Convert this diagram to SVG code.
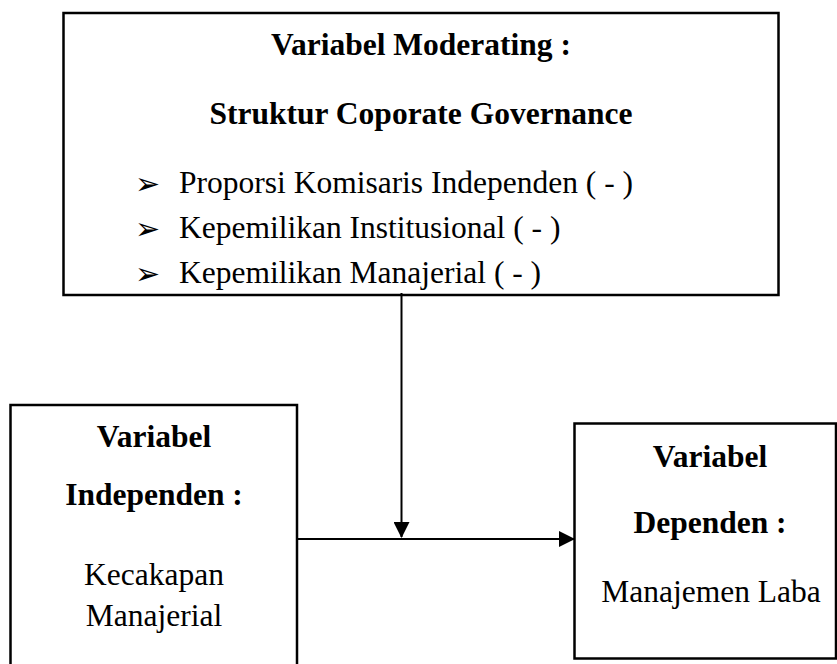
<svg xmlns="http://www.w3.org/2000/svg" width="837" height="664" viewBox="0 0 837 664">
<style>
.box{fill:#fff;stroke:#000;stroke-width:2.5}
.b{font-family:"Liberation Serif","Times New Roman",serif;font-weight:bold;font-size:31.5px;fill:#000;text-anchor:middle}
.r{font-family:"Liberation Serif","Times New Roman",serif;font-size:31.5px;fill:#000}
.c{text-anchor:middle}
.bul{font-family:"DejaVu Sans",sans-serif;font-size:30px;fill:#000}
.ln{stroke:#000;stroke-width:2;fill:none}
</style>
<defs>
<marker id="ah" markerWidth="16" markerHeight="16" refX="15" refY="8" orient="auto" markerUnits="userSpaceOnUse">
<path d="M0,0 L16,8 L0,16 Z" fill="#000"/>
</marker>
</defs>
<rect width="837" height="664" fill="#fff"/>
<g id="moderating">
<rect class="box" x="63.5" y="13" width="715" height="282"/>
<text class="b" x="421" y="55">Variabel Moderating :</text>
<text class="b" x="421" y="124">Struktur Coporate Governance</text>
<text class="bul" x="135" y="194">➢</text>
<text class="r" x="179" y="193">Proporsi Komisaris Independen ( - )</text>
<text class="bul" x="135" y="239">➢</text>
<text class="r" x="179" y="238">Kepemilikan Institusional ( - )</text>
<text class="bul" x="135" y="284">➢</text>
<text class="r" x="179" y="283">Kepemilikan Manajerial ( - )</text>
</g>
<g id="independen">
<rect class="box" x="10.5" y="405" width="286.5" height="270"/>
<text class="b" x="154" y="447">Variabel</text>
<text class="b" x="154" y="505">Independen :</text>
<text class="r c" x="154" y="585">Kecakapan</text>
<text class="r c" x="154" y="626">Manajerial</text>
</g>
<g id="dependen">
<rect class="box" x="574.5" y="423.5" width="261.5" height="235"/>
<text class="b" x="710" y="467">Variabel</text>
<text class="b" x="710" y="533">Dependen :</text>
<text class="r c" x="711" y="602">Manajemen Laba</text>
</g>
<g id="connectors">
<line class="ln" x1="401.5" y1="293" x2="401.5" y2="537" marker-end="url(#ah)"/>
<line class="ln" x1="297" y1="539" x2="574" y2="539" marker-end="url(#ah)"/>
</g>
</svg>
